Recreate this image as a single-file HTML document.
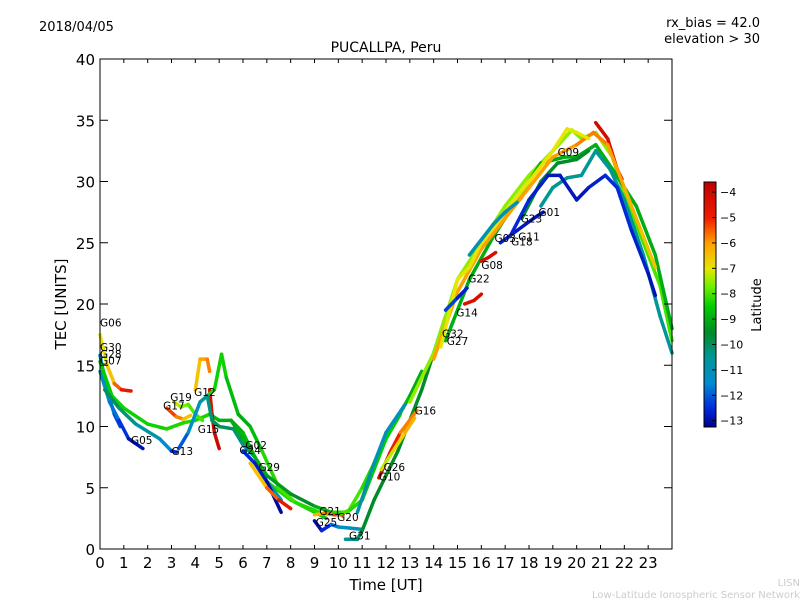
<!DOCTYPE html>
<html><head><meta charset="utf-8"><style>
body{margin:0;background:#fff}
svg{font-family:"DejaVu Sans","Liberation Sans",sans-serif}
</style></head><body>
<svg id="c" width="800" height="600" xmlns="http://www.w3.org/2000/svg">
<rect width="800" height="600" fill="#fff"/>
<text x="39" y="31" font-size="13">2018/04/05</text>
<text x="760" y="27" font-size="13" text-anchor="end">rx_bias = 42.0</text>
<text x="760" y="43" font-size="13" text-anchor="end">elevation &gt; 30</text>
<text x="386" y="52" font-size="14" text-anchor="middle">PUCALLPA, Peru</text>
<g id="plot"></g>
<rect x="100" y="59" width="572" height="490" fill="none" stroke="#000"/>
<g id="axes"></g>
<text x="386" y="590" font-size="15" text-anchor="middle">Time [UT]</text>
<text transform="translate(66,304) rotate(-90)" font-size="15" text-anchor="middle">TEC [UNITS]</text>
<g id="cbar"></g>
<text transform="translate(761,305) rotate(-90)" font-size="13" text-anchor="middle">Latitude</text>
<text x="800" y="586" font-size="10" fill="#ccc" text-anchor="end">LISN</text>
<text x="800" y="598" font-size="10" fill="#ccc" text-anchor="end">Low-Latitude Ionospheric Sensor Network</text>
</svg>
<script>
const xTicks=[0,1,2,3,4,5,6,7,8,9,10,11,12,13,14,15,16,17,18,19,20,21,22,23];
const yTicks=[0,5,10,15,20,25,30,35,40];
const cbTicks=[-4,-5,-6,-7,-8,-9,-10,-11,-12,-13];
const trackNames=["G06","G30","G05","G28","G13","G17","G19","G12o","G12r","G15g","G15t","G24","G29","G02","G25","G21","G20","G31","G16","G26","G10","Glg","G09","Gdg","Gteal","Gblue","Gred","Gorg","Gyel","G14","G22","G08","G03","G18"];
const trackTimes=[
[0,0.3,0.6,0.9,1.3],
[0,0.3,0.6,0.85],
[0,0.4,0.8,1.2,1.8],
[0,0.5,1,2,2.8,3.5,4,4.6,5,5.5,6,6.5,7,8,9,9.5],
[0.2,0.8,1.5,2.5,3,3.2],
[2.8,3.2,3.5,3.8],
[3.1,3.4,3.7,4,4.3],
[4.0,4.2,4.5,4.6],
[4.6,4.7,4.8,5.0],
[4.5,4.8,5.1,5.3,5.8,6.3,6.8,7.5,8.2,9.2],
[3.3,3.7,4.2,4.5,4.7,5,5.6,6,6.5,7,7.6],
[6,6.5,7,7.6],
[6.3,7,7.5,8],
[5.5,6,7,8,9,9.7,10.4,11,12,13,13.5],
[9,9.3,9.7,10,10.5,11],
[9,9.4,9.8,10.2],
[10,10.5,11,11.5,12,12.6],
[10.3,10.8,11,11.5,12,12.5,13,13.5,14,14.5],
[10.8,11.5,12,12.8],
[11.7,12.2,12.6,13.3],
[11.8,12.3,12.8,13.2],
[13,14,15,16,17,18,19,19.8,20.2,20.8,21.5,22,22.8,23.5,24],
[14.5,15.5,16.5,17.5,18.5,19.5,20,20.8,21.5,22.5,23.3,24],
[17.7,18.5,19.2,20,20.5],
[18.5,19,19.6,20.2,20.8,21.4,22,22.8,23.5,24],
[17.2,18,18.8,19.3,20,20.5,21.2,21.7,22.3,23,23.3],
[20.8,21.3,21.7,21.9],
[14,15,16,17,18,19,20,20.7,21.3,22,22.7,23.3],
[14.3,15,15.5,16,17,18,19,19.6,20,20.5],
[14.5,15,15.4],
[15.3,15.7,16],
[16,16.3,16.6],
[15.5,16.5,17,17.5],
[16.8,17.5,18.2,18.6]];
const trackTec=[
[17.5,15,13.5,13,12.9],
[15.8,13,11,10],
[14.5,12,10.5,9,8.2],
[15.3,12.5,11.5,10.2,9.8,10.3,10.5,11,10.5,10.5,9.5,7.5,5.5,4,3,2.5],
[13,11.5,10.2,9,8,7.9],
[11.5,10.8,10.6,10.9],
[12,11.6,11.8,11,10.5],
[13,15.5,15.5,14.5],
[13,11,9.5,8.2],
[12.5,13,15.9,14,11,10,8,5,3.8,3],
[8.2,9.5,12,12.5,10.5,10,9.8,8.5,7.5,5.5,4],
[8,7,5.5,3],
[7,5,4,3.3],
[10.5,9,6,4.5,3.5,3,3,5,9,12.5,14.5],
[2.3,1.5,2,1.8,1.7,1.6],
[2.8,2.9,2.8,2.8],
[2.8,3.2,4,6.5,9,11],
[0.8,0.8,1.5,4,6,8,10.5,13,16,19],
[3,7,9.5,11.8],
[5.8,8,9.5,11.3],
[6.5,8,9.5,10.7],
[12,16,22,25,28,30.5,32.5,34.2,33.5,34,32,29,25,21.5,17],
[17,22,25.5,28.5,31.5,32,32,33,31,28,24,18],
[27,30,31.5,31.8,32.5],
[28,29.5,30.3,30.5,32.5,31,28.5,24,19,16],
[25.5,28.5,30.5,30.5,28.5,29.5,30.5,29.5,26,22.5,20.7],
[34.8,33.5,31,30.2],
[15.5,21,24.5,27,29.5,32,33,34,33,29.5,26,23],
[16.5,22,23,25,27.5,30,32.5,34.3,34,33.5],
[19.5,20.5,21.3],
[20,20.3,20.8],
[23.5,23.8,24.2],
[24,26.5,27.5,28.3],
[25,26,27,27.5]];
const trackLat=[
[-7,-7,-6,-5,-4.5],
[-10.5,-11.5,-12,-12.5],
[-11,-11.5,-12,-12.8,-13],
[-8.5,-8.5,-8.3,-8.5,-8.3,-8.3,-8.2,-8.5,-9,-9,-9,-8.5,-8.3,-8.2,-8.5,-8.5],
[-10,-10,-10.5,-11,-12,-13],
[-5,-5.5,-6,-7],
[-7,-7.5,-7.8,-8,-8],
[-7,-6,-6,-5.5],
[-4.5,-4.2,-4,-4],
[-8,-8.5,-8.3,-8.5,-9,-9,-8.5,-8,-8,-8.5],
[-12.5,-11.5,-11,-10.5,-10,-10,-10,-10.5,-11,-11,-11],
[-12.5,-12.5,-13,-13.2],
[-7,-6,-5,-4.3],
[-9,-9,-9,-9.5,-9.5,-8.5,-8,-8,-8.5,-9,-9],
[-13,-13,-12,-11.5,-11,-11],
[-6.5,-6,-5.5,-5],
[-8,-8,-8.5,-8.5,-8.5,-8.5],
[-10.5,-10.5,-9.5,-9.5,-9.5,-9.5,-9.5,-9.5,-9.5,-9.5],
[-10.5,-11,-11,-11.3],
[-4.3,-4.5,-5.5,-6],
[-7.5,-7,-6.5,-6],
[-7.5,-7.5,-7.5,-7.5,-7.5,-7.5,-7.5,-7.5,-7.8,-7.5,-7.5,-8,-8,-8,-8],
[-9,-9,-9,-9,-9,-9,-9,-9,-9,-9,-9,-9],
[-9.5,-9.5,-9.5,-9.5,-9.5],
[-10.5,-10.5,-10.5,-10.5,-10.5,-10.5,-10.5,-10.5,-10.5,-10.5],
[-12.5,-12.5,-12.8,-12.8,-12.8,-12.8,-12.5,-12.5,-12.5,-12.8,-13],
[-4,-4.2,-4.5,-4.5],
[-6,-6,-6,-6,-6,-6,-6,-5.5,-6,-6,-6.5,-6.5],
[-7,-7,-7,-7,-7,-7,-7,-7,-7,-7],
[-12,-12.5,-12.8],
[-4.5,-4.3,-4.2],
[-4.3,-4.3,-4.2],
[-11,-11,-11,-11],
[-12.5,-12.8,-12.8,-12.8]];
const labelText=["G06","G30","G28","G07","G05","G13","G19","G17","G12","G15","G02","G24","G29","G21","G25","G20","G31","G26","G10","G16","G32","G27","G14","G22","G08","G03","G18","G11","G23","G01","G09"];
const labelT=[0,0,0,0,1.3,3.0,2.95,2.65,3.95,4.1,6.1,5.85,6.65,9.2,9.05,9.95,10.45,11.9,11.7,13.2,14.35,14.55,14.95,15.45,16.0,16.55,17.25,17.55,17.65,18.4,19.2];
const labelV=[18.5,16.5,15.9,15.4,8.9,8.0,12.4,11.7,12.8,9.8,8.5,8.1,6.7,3.1,2.2,2.6,1.1,6.7,5.9,11.3,17.6,17.0,19.3,22.1,23.2,25.4,25.1,25.5,27.0,27.5,32.4];

const X0=100,X1=672,Y0=549,Y1=59;
const sx=t=>X0+t*(X1-X0)/24;
const sy=v=>Y0-v*(Y0-Y1)/40;
const L0=-13.25,L1=-3.6,CB0=427,CB1=182;
const sc=l=>CB0-(l-L0)*(CB0-CB1)/(L1-L0);
const cmapStops=[[-13.25,[0,0,140]],[-12.5,[0,40,220]],[-11.5,[0,140,210]],[-10.5,[0,150,150]],[-9.5,[0,140,40]],[-8.5,[0,205,0]],[-7.7,[110,240,0]],[-7,[230,230,0]],[-6,[255,160,0]],[-5,[240,30,0]],[-3.6,[190,0,0]]];
function col(l){
 if(l<=cmapStops[0][0])return `rgb(${cmapStops[0][1]})`;
 for(let i=0;i<cmapStops.length-1;i++){
  const a=cmapStops[i],b=cmapStops[i+1];
  if(l<=b[0]){const f=(l-a[0])/(b[0]-a[0]);
   return `rgb(${a[1].map((v,k)=>Math.round(v+(b[1][k]-v)*f)).join(',')})`;}
 }
 return `rgb(${cmapStops[cmapStops.length-1][1]})`;
}
const NS="http://www.w3.org/2000/svg";
function mk(tag,attrs,parent){const e=document.createElementNS(NS,tag);for(const k in attrs)e.setAttribute(k,attrs[k]);parent.appendChild(e);return e;}
const plot=document.getElementById('plot'),axes=document.getElementById('axes'),cbar=document.getElementById('cbar');
for(let i=0;i<trackNames.length;i++){
 const g=mk('g',{},plot);
 
 
 const T=trackTimes[i],V=trackTec[i],La=trackLat[i];
 for(let j=0;j<T.length-1;j++){
  const s=mk('line',{x1:sx(T[j]),y1:sy(V[j]),x2:sx(T[j+1]),y2:sy(V[j+1]),stroke:col((La[j]+La[j+1])/2),'stroke-width':3.5,'stroke-linecap':'round'},g);
  
  
 }
}
for(let i=0;i<labelText.length;i++){
 const t=mk('text',{x:sx(labelT[i]),y:sy(labelV[i])+4,'font-size':10.5},plot);
 t.textContent=labelText[i];
 
 
}
for(const v of xTicks){
 const x=sx(v);
 mk('line',{x1:x,y1:Y0,x2:x,y2:Y0-4,stroke:'#000'},axes);
 mk('line',{x1:x,y1:Y1,x2:x,y2:Y1+4,stroke:'#000'},axes);
 const t=mk('text',{x:x,y:568,'font-size':15,'text-anchor':'middle'},axes);
 t.textContent=v;
 
 
}
for(const v of yTicks){
 const y=sy(v);
 mk('line',{x1:X0,y1:y,x2:X0+8,y2:y,stroke:'#000'},axes);
 mk('line',{x1:X1,y1:y,x2:X1-8,y2:y,stroke:'#000'},axes);
 const t=mk('text',{x:95,y:y+6,'font-size':15,'text-anchor':'end'},axes);
 t.textContent=v;
 
 
}
for(let k=0;k<100;k++){
 const l0=L0+(L1-L0)*k/100,l1=L0+(L1-L0)*(k+1)/100;
 mk('rect',{x:704,y:sc(l1),width:12,height:sc(l0)-sc(l1)+0.5,fill:col((l0+l1)/2)},cbar);
}
mk('rect',{x:704,y:CB1,width:12,height:CB0-CB1,fill:'none',stroke:'#000'},cbar);
for(const v of cbTicks){
 const y=sc(v);
 mk('line',{x1:712,y1:y,x2:716,y2:y,stroke:'#000'},cbar);
 const t=mk('text',{x:720,y:y+4,'font-size':11},cbar);
 t.textContent='\u2212'+Math.abs(v);
 
 
}
</script>
</body></html>
